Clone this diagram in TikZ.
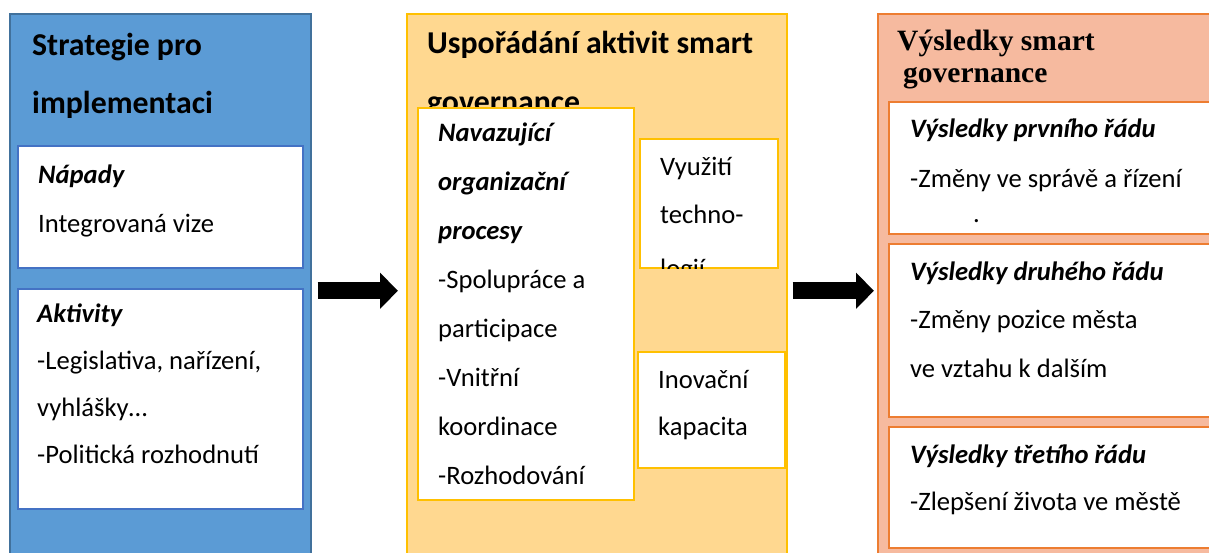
\documentclass[tikz,border=0pt]{standalone}
\usepackage{fontspec}
\setmainfont{Carlito}
\newfontfamily\titleserif{Liberation Serif}
\usetikzlibrary{arrows.meta}

\definecolor{stratblue}{HTML}{5B9BD5}
\definecolor{stratline}{HTML}{41719C}
\definecolor{idealine}{HTML}{4472C4}
\definecolor{activfill}{HTML}{FFD890}
\definecolor{activline}{HTML}{FFC000}
\definecolor{resfill}{HTML}{F6BA9F}
\definecolor{resline}{HTML}{ED7D31}

% text nodes are placed at the baseline of their last line
\tikzset{
  column/.style={draw, line width=1.5pt, anchor=north west, inner sep=0pt, minimum height=554pt},
  inbox/.style={draw, fill=white, line width=2pt, anchor=north west, inner sep=0pt},
  txt/.style={anchor=base west, inner sep=0pt, align=left, font=\fontsize{26.6}{#1}\selectfont},
  txt/.default=48,
  head/.style={anchor=base west, inner sep=0pt, align=left, font=\fontsize{31.8}{#1}\selectfont\bfseries},
  head/.default=58,
  bigarrow/.style={line width=17pt, -{Triangle[length=18pt,width=35pt]}}
}

\begin{document}
\begin{tikzpicture}[x=1pt,y=-1pt]
\path[use as bounding box, clip] (0,0) rectangle (1209,552);

% the three columns
\node[column, fill=stratblue, draw=stratline, minimum width=301pt] (strat) at (9,13) {};
\node[column, fill=activfill, draw=activline, minimum width=380pt] (arrange) at (406,13) {};
\node[column, fill=resfill, draw=resline, minimum width=360pt] (results) at (877,13) {};

\node[head] (strattitle) at (32,113) {Strategie pro\\implementaci};
\node[head=59] (arrangetitle) at (427,112) {Uspořádání aktivit smart\\governance};
\node[head, font=\fontsize{29.5}{32}\selectfont\titleserif\bfseries] (restitle) at (897,82)
  {Výsledky smart\\\hspace{6pt}governance};

% left column
\node[inbox, draw=idealine, minimum width=285pt, minimum height=122pt] (ideas) at (17,145) {};
\node[inbox, draw=idealine, minimum width=285pt, minimum height=220pt] (acts) at (17,288) {};
\node[txt=49] (ideastext) at (38,232) {\textbf{\textit{Nápady}}\\Integrovaná vize};
\node[txt=46.7] (actstext) at (37,463)
  {\textbf{\textit{Aktivity}}\\-Legislativa, nařízení,\\vyhlášky…\\-Politická rozhodnutí};

% middle column
\node[inbox, draw=activline, minimum width=216pt, minimum height=392pt] (procs) at (417,107) {};
\node[inbox, draw=activline, minimum width=138pt, minimum height=129pt] (tech) at (639,138) {};
\node[inbox, draw=activline, minimum width=147pt, minimum height=116pt] (innov) at (637,351) {};
\node[txt=48.86] (procstext) at (438,484)
  {\textbf{\textit{Navazující}}\\\textbf{\textit{organizační}}\\\textbf{\textit{procesy}}\\-Spolupráce a\\participace\\-Vnitřní\\koordinace\\-Rozhodování};
\begin{scope}
  \clip ([xshift=1pt,yshift=-1pt]tech.north west) rectangle ([xshift=-1pt,yshift=1pt]tech.south east);
  \node[txt] (techtext) at (660,277) {Využití\\techno-\\[6pt]logií};
\end{scope}
\node[txt=47] (innovtext) at (658,435) {Inovační\\kapacita};

% right column
\node[inbox, draw=resline, minimum width=340pt, minimum height=132pt] (first) at (888,101) {};
\node[inbox, draw=resline, minimum width=340pt, minimum height=173pt] (second) at (888,243) {};
\node[inbox, draw=resline, minimum width=340pt, minimum height=121pt] (third) at (888,426) {};
\node[txt=50] (firsttext) at (910,187)
  {\textbf{\textit{Výsledky prvního řádu}}\\-Změny ve správě a řízení};
\node[txt] (dot) at (973,222) {.};
\node[txt=48.5] (secondtext) at (910,377)
  {\textbf{\textit{Výsledky druhého řádu}}\\-Změny pozice města\\ve vztahu k dalším};
\node[txt=47] (thirdtext) at (910,510)
  {\textbf{\textit{Výsledky třetího řádu}}\\-Zlepšení života ve městě};

% arrows
\draw[bigarrow] ([xshift=6pt]strat.east) -- ([xshift=-8pt]arrange.west);
\draw[bigarrow] ([xshift=5pt]arrange.east) -- ([xshift=-3pt]results.west);
\end{tikzpicture}
\end{document}
